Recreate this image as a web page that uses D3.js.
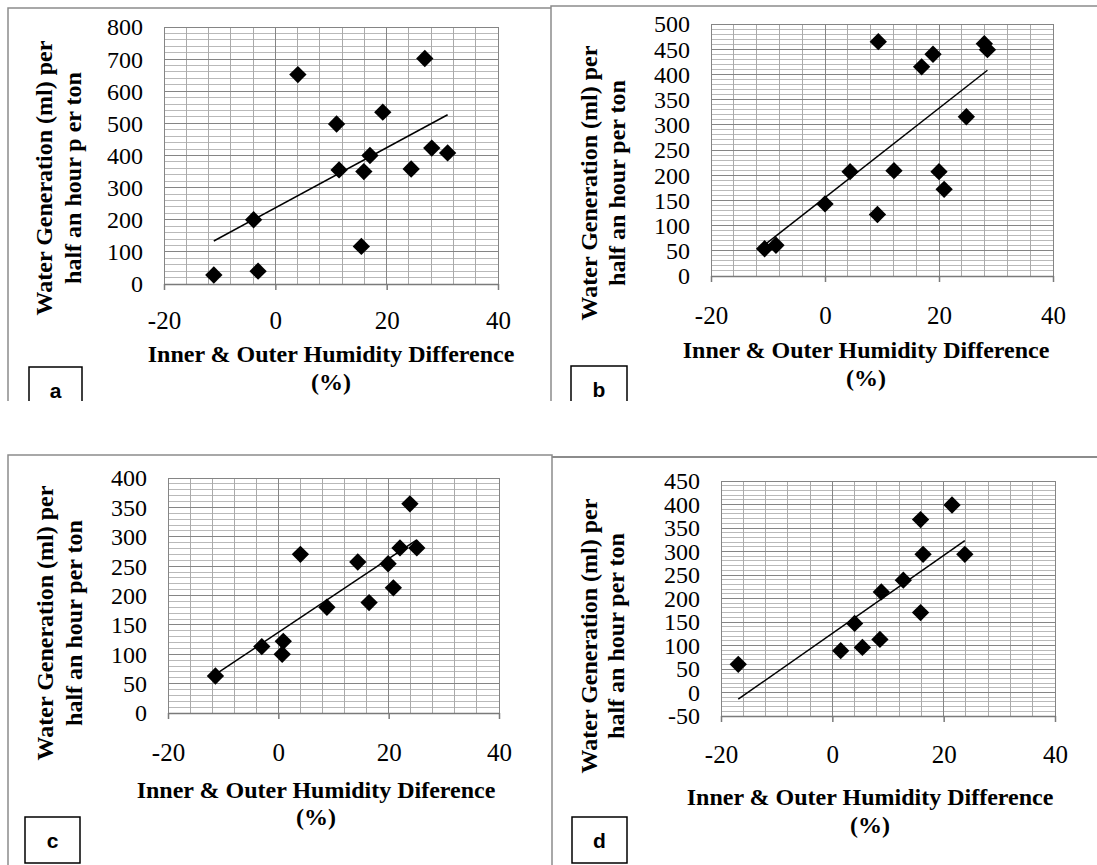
<!DOCTYPE html>
<html>
<head>
<meta charset="utf-8">
<script src="https://cdn.jsdelivr.net/npm/d3@7"></script>
<style>
  body { margin: 0; background: #fff; }
  svg { display: block; }
</style>
</head>
<body>
<svg id="chart" width="1097" height="865"></svg>
<script>
// x axis ticks shared by all four panels
var xTicks = [-20, 0, 20, 40];

// panel a
var aHumidity = [-11.05, -3.9, -3.1, 4.05, 11.0, 11.45, 15.45, 15.9, 17.0, 19.3, 24.4, 26.85, 28.1, 30.95];
var aWater = [28, 200, 40, 652, 498, 355, 117, 350, 400, 535, 358, 702, 423, 408];
var aYTicks = [0, 100, 200, 300, 400, 500, 600, 700, 800];

// panel b
var bHumidity = [-10.6, -8.6, 0, 4.4, 9.2, 9.35, 12.1, 16.95, 18.95, 20.0, 20.9, 24.8, 27.95, 28.5];
var bWater = [54, 61, 143, 207, 122, 465, 209, 415, 440, 207, 172, 316, 461, 449];
var bYTicks = [0, 50, 100, 150, 200, 250, 300, 350, 400, 450, 500];

// panel c
var cHumidity = [-11.4, -3.0, 0.7, 0.9, 4.0, 8.8, 14.4, 16.45, 19.9, 20.85, 22.05, 23.85, 25.1];
var cWater = [63, 113, 100, 122, 270, 180, 257, 188, 254, 213, 281, 356, 281];
var cYTicks = [0, 50, 100, 150, 200, 250, 300, 350, 400];

// panel d
var dHumidity = [-16.9, 1.5, 4.0, 5.4, 8.55, 8.8, 12.75, 15.85, 15.85, 16.3, 21.5, 23.8];
var dWater = [60, 89, 147, 96, 113, 214, 239, 368, 170, 294, 399, 294];
var dYTicks = [-50, 0, 50, 100, 150, 200, 250, 300, 350, 400, 450];

var yTitleLine1 = 'Water Generation (ml) per';

var panels = [
    {label: 'a', xs: aHumidity, ys: aWater, yTicks: aYTicks, yMinor: 20,
     xTitle: 'Inner & Outer Humidity Difference', yTitle2: 'half an hour p er ton',
     left: 164, right: 498, top: 27, bottom: 284, yLab: 143, xLab: 321,
     xtCx: 331, xt1: 362, xt2: 390, ytCy: 178, yt1: 52, yt2: 81,
     box: [29, 367, 82, 401], open: true},
    {label: 'b', xs: bHumidity, ys: bWater, yTicks: bYTicks, yMinor: 10,
     xTitle: 'Inner & Outer Humidity Difference', yTitle2: 'half an hour per ton',
     left: 711, right: 1053, top: 24, bottom: 276, yLab: 690, xLab: 316,
     xtCx: 866, xt1: 358, xt2: 386, ytCy: 183, yt1: 597, yt2: 625,
     box: [571, 366, 627, 401], open: true},
    {label: 'c', xs: cHumidity, ys: cWater, yTicks: cYTicks, yMinor: 10,
     xTitle: 'Inner & Outer Humidity Diference', yTitle2: 'half an hour per ton',
     left: 168, right: 499, top: 478, bottom: 713, yLab: 147, xLab: 753,
     xtCx: 316, xt1: 798, xt2: 825, ytCy: 623, yt1: 53, yt2: 82,
     box: [25, 817, 80, 863], open: false},
    {label: 'd', xs: dHumidity, ys: dWater, yTicks: dYTicks, yMinor: 10,
     xTitle: 'Inner & Outer Humidity Difference', yTitle2: 'half an hour per ton',
     left: 721, right: 1055, top: 481, bottom: 716, yLab: 700, xLab: 755,
     xtCx: 870, xt1: 805, xt2: 833, ytCy: 636, yt1: 597, yt2: 624,
     box: [572, 817, 627, 863], open: false}
];

var serif = '"Liberation Serif", "Times New Roman", serif';
var svg = d3.select('#chart');

// panel frames (gray outlines of the pasted charts)
var frames = svg.append('g').attr('fill', 'none').attr('stroke', '#8c8c8c');
frames.append('path').attr('d', 'M8,401V8H551').attr('stroke-width', 1.5);
frames.append('path').attr('d', 'M551,401V6H1097').attr('stroke-width', 1.5);
frames.append('path').attr('d', 'M8,865V455H552V865').attr('stroke-width', 1.5);
frames.append('path').attr('d', 'M552,457H1097').attr('stroke-width', 2.2);

// least squares fit for the trendline
function linReg(xs, ys){
    var n = xs.length, mx = d3.mean(xs), my = d3.mean(ys);
    var sxx = 0, sxy = 0;
    for(var i = 0; i < n; i++){
        sxx += (xs[i] - mx) * (xs[i] - mx);
        sxy += (xs[i] - mx) * (ys[i] - my);
    }
    var slope = sxy / sxx;
    return {slope: slope, intercept: my - slope * mx};
}

// plain hyphen for negatives, like the original
function plain(d){ return String(d); }

function drawPanel(p){
    var g = svg.append('g');
    var yMin = p.yTicks[0], yMax = p.yTicks[p.yTicks.length - 1];
    var x = d3.scaleLinear().domain([xTicks[0], xTicks[xTicks.length - 1]]).range([p.left, p.right]);
    var y = d3.scaleLinear().domain([yMin, yMax]).range([p.bottom, p.top]);

    // minor gridlines
    var grid = g.append('g').attr('shape-rendering', 'crispEdges');
    grid.selectAll('.hminor')
        .data(d3.range(yMin, yMax + 0.001, p.yMinor))
        .enter().append('line')
            .attr('x1', p.left).attr('x2', p.right)
            .attr('y1', function(d){ return y(d); })
            .attr('y2', function(d){ return y(d); })
            .attr('stroke', '#b9b9b9');
    grid.selectAll('.vminor')
        .data(d3.range(xTicks[0], xTicks[xTicks.length - 1] + 0.001, 4))
        .enter().append('line')
            .attr('y1', p.top).attr('y2', p.bottom)
            .attr('x1', function(d){ return x(d); })
            .attr('x2', function(d){ return x(d); })
            .attr('stroke', '#aaaaaa');

    // major gridlines
    grid.selectAll('.hmajor')
        .data(p.yTicks)
        .enter().append('line')
            .attr('x1', p.left).attr('x2', p.right)
            .attr('y1', function(d){ return y(d); })
            .attr('y2', function(d){ return y(d); })
            .attr('stroke', '#858585');
    grid.selectAll('.vmajor')
        .data(xTicks)
        .enter().append('line')
            .attr('y1', p.top).attr('y2', p.bottom)
            .attr('x1', function(d){ return x(d); })
            .attr('x2', function(d){ return x(d); })
            .attr('stroke', '#858585');

    // y axis labels
    var yAxis = g.append('g')
        .attr('transform', 'translate(' + p.left + ',0)')
        .call(d3.axisLeft(y).tickValues(p.yTicks).tickFormat(plain).tickSize(0).tickPadding(p.left - p.yLab));
    yAxis.select('.domain').remove();
    yAxis.selectAll('text')
        .attr('font-family', serif).attr('font-size', 24).attr('fill', '#000')
        .attr('dy', '0.33em');

    // x axis with tick marks
    var xAxis = g.append('g')
        .attr('transform', 'translate(0,' + p.bottom + ')')
        .call(d3.axisBottom(x).tickValues(xTicks).tickFormat(plain).tickSize(6).tickSizeOuter(0));
    xAxis.select('.domain').attr('stroke', '#7a7a7a').attr('stroke-width', 1.5);
    xAxis.selectAll('line').attr('stroke', '#7a7a7a').attr('stroke-width', 1.5);
    xAxis.selectAll('text')
        .attr('font-family', serif).attr('font-size', 25).attr('fill', '#000')
        .attr('y', p.xLab - p.bottom).attr('dy', '0.33em');

    // trendline from min to max x
    var fit = linReg(p.xs, p.ys);
    var ext = d3.extent(p.xs);
    g.append('line')
        .attr('x1', x(ext[0])).attr('y1', y(fit.intercept + fit.slope * ext[0]))
        .attr('x2', x(ext[1])).attr('y2', y(fit.intercept + fit.slope * ext[1]))
        .attr('stroke', '#000').attr('stroke-width', 1.5);

    // diamond markers
    var diamond = d3.symbol(d3.symbolSquare, 150);
    g.selectAll('.pt')
        .data(p.xs.map(function(v, i){ return [v, p.ys[i]]; }))
        .enter().append('path')
            .attr('d', diamond)
            .attr('transform', function(d){ return 'translate(' + x(d[0]) + ',' + y(d[1]) + ') rotate(45)'; })
            .attr('fill', '#000');

    // axis titles
    var title = g.append('g')
        .attr('font-family', serif).attr('font-size', 24).attr('font-weight', 'bold')
        .attr('text-anchor', 'middle').attr('fill', '#000');
    title.append('text').attr('x', p.xtCx).attr('y', p.xt1).text(p.xTitle);
    title.append('text').attr('x', p.xtCx).attr('y', p.xt2).text('(%)');
    title.append('text')
        .attr('transform', 'translate(' + p.yt1 + ',' + p.ytCy + ') rotate(-90)')
        .text(yTitleLine1);
    title.append('text')
        .attr('transform', 'translate(' + p.yt2 + ',' + p.ytCy + ') rotate(-90)')
        .text(p.yTitle2);

    // panel letter box
    var b = p.box;
    var boxPath = p.open
        ? 'M' + b[0] + ',' + b[3] + 'V' + b[1] + 'H' + b[2] + 'V' + b[3]
        : 'M' + b[0] + ',' + b[1] + 'H' + b[2] + 'V' + b[3] + 'H' + b[0] + 'Z';
    g.append('path').attr('d', boxPath)
        .attr('fill', '#fff').attr('stroke', '#000').attr('stroke-width', 1.5);
    g.append('text')
        .attr('x', (b[0] + b[2]) / 2)
        .attr('y', p.open ? b[1] + 31 : (b[1] + b[3]) / 2 + 8)
        .attr('text-anchor', 'middle')
        .attr('font-family', '"Liberation Sans", Arial, sans-serif')
        .attr('font-size', 21).attr('font-weight', 'bold')
        .text(p.label);
}

panels.forEach(drawPanel);
</script>
</body>
</html>
